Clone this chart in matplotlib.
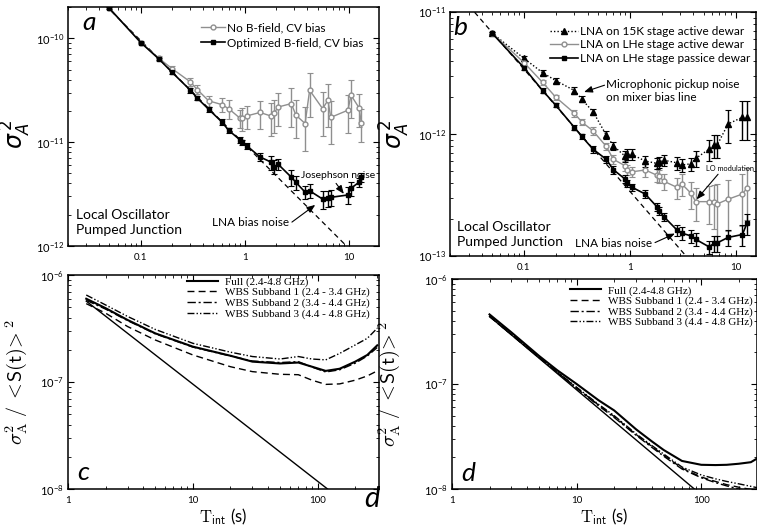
import numpy as np
import matplotlib
matplotlib.use('Agg')
import matplotlib.pyplot as plt
from matplotlib.ticker import (FixedLocator, FixedFormatter, LogLocator,
                               NullFormatter, LogFormatterMathtext)

plt.rcParams['font.family'] = ['Lato', 'DejaVu Sans']
plt.rcParams['mathtext.fontset'] = 'dejavusans'

# ---------------- data: panel a ----------------
t_a = [0.05, 0.1, 0.15, 0.2, 0.3, 0.35, 0.45, 0.6, 0.7, 0.9, 0.95, 1.05, 1.4, 1.8,
       1.9, 2.1, 2.8, 3.1, 3.8, 4.2, 5.6, 6.3, 6.7, 9.8, 10.5, 12.5, 13.2]
a_nob = [1.94e-10, 9.1e-11, 6.4e-11, 5.1e-11, 3.8e-11, 3.2e-11, 2.5e-11, 2.3e-11, 2.1e-11,
         1.7e-11, 1.7e-11, 1.79e-11, 1.93e-11, 1.78e-11, 1.89e-11, 2.18e-11, 2.35e-11,
         1.82e-11, 1.51e-11, 3.16e-11, 2.1e-11, 2.53e-11, 1.73e-11, 2.03e-11, 2.83e-11,
         2.15e-11, 1.53e-11]
a_nob_err = [0.02, 0.03, 0.05, 0.06, 0.08, 0.1, 0.12, 0.15, 0.2, 0.2, 0.25, 0.25, 0.3, 0.35,
             0.35, 0.35, 0.4, 0.4, 0.45, 0.45, 0.45, 0.45, 0.45, 0.4, 0.4, 0.35, 0.35]
a_opt = [1.94e-10, 9.1e-11, 6.3e-11, 4.7e-11, 3.16e-11, 2.65e-11, 2.07e-11, 1.57e-11, 1.3e-11,
         1.05e-11, 1.0e-11, 9.2e-12, 7.2e-12, 6.4e-12, 5.8e-12, 6.1e-12, 4.6e-12, 4.1e-12,
         3.3e-12, 3.4e-12, 2.83e-12, 2.87e-12, 2.94e-12, 3.1e-12, 3.6e-12, 4.1e-12, 4.6e-12]
a_opt_err = [0.02, 0.02, 0.03, 0.03, 0.05, 0.05, 0.05, 0.06, 0.06, 0.06, 0.06, 0.06, 0.08, 0.15,
             0.15, 0.12, 0.17, 0.15, 0.15, 0.15, 0.2, 0.18, 0.18, 0.18, 0.16, 0.1, 0.1]
a_ref_coef = 9.5e-12          # dashed 1/t radiometer line
a_ref_t = [0.02, 20]

# ---------------- data: panel b ----------------
t_b = [0.05, 0.1, 0.15, 0.2, 0.3, 0.35, 0.45, 0.6, 0.7, 0.9, 0.95, 1.05, 1.4, 1.8, 1.9,
       2.1, 2.8, 3.1, 3.8, 4.2, 5.6, 6.3, 6.7, 8.5, 11.6, 12.8]
b_15k = [6.7e-12, 4.17e-12, 3.18e-12, 2.74e-12, 2.27e-12, 1.94e-12, 1.52e-12, 9.8e-13, 8.0e-13,
         6.6e-13, 6.8e-13, 6.8e-13, 6.0e-13, 5.75e-13, 5.9e-13, 6.1e-13, 5.8e-13, 5.57e-13,
         5.7e-13, 6.3e-13, 7.5e-13, 8.1e-13, 8.1e-13, 1.21e-12, 1.37e-12, 1.37e-12]
b_15k_err = [0.02, 0.05, 0.05, 0.05, 0.06, 0.06, 0.06, 0.07, 0.07, 0.1, 0.1, 0.1, 0.1, 0.1, 0.1,
             0.1, 0.12, 0.12, 0.12, 0.15, 0.2, 0.22, 0.22, 0.3, 0.35, 0.35]
b_lhe_act = [6.7e-12, 3.85e-12, 2.65e-12, 2.0e-12, 1.48e-12, 1.26e-12, 1.06e-12, 7.9e-13,
             6.2e-13, 5.5e-13, 5.1e-13, 4.9e-13, 5.07e-13, 4.6e-13, 4.5e-13, 4.1e-13, 3.65e-13,
             3.9e-13, 3.26e-13, 2.79e-13, 2.79e-13, 2.75e-13, 2.67e-13, 2.92e-13, 3.22e-13, 3.6e-13]
b_lhe_act_err = [0.02, 0.05, 0.05, 0.05, 0.06, 0.06, 0.07, 0.07, 0.08, 0.1, 0.1, 0.1, 0.12, 0.12,
                 0.12, 0.15, 0.2, 0.2, 0.25, 0.3, 0.35, 0.4, 0.45, 0.45, 0.45, 0.45]
b_lhe_pas = [6.7e-12, 3.5e-12, 2.27e-12, 1.72e-12, 1.13e-12, 9.6e-13, 7.5e-13, 6.2e-13, 5.1e-13,
             4.28e-13, 3.94e-13, 3.66e-13, 3.22e-13, 2.54e-13, 2.35e-13, 2.1e-13, 1.63e-13,
             1.54e-13, 1.46e-13, 1.37e-13, 1.19e-13, 1.27e-13, 1.28e-13, 1.42e-13, 1.5e-13, 1.85e-13]
b_lhe_pas_err = [0.02, 0.04, 0.04, 0.04, 0.05, 0.05, 0.06, 0.06, 0.07, 0.07, 0.07, 0.07, 0.08,
                 0.08, 0.08, 0.08, 0.1, 0.12, 0.12, 0.12, 0.12, 0.15, 0.15, 0.15, 0.2, 0.2]
b_ref_coef = 3.4e-13
b_ref_t = [0.02, 16]

# ---------------- data: panel c ----------------
t_c = [1.4, 2, 3, 5, 10, 20, 30, 50, 70, 90, 116, 150, 200, 250, 300]
c_full = [6.0e-7, 4.9e-7, 3.8e-7, 2.85e-7, 2.14e-7, 1.76e-7, 1.55e-7, 1.49e-7, 1.52e-7, 1.39e-7,
          1.27e-7, 1.33e-7, 1.55e-7, 1.79e-7, 2.2e-7]
c_sub1 = [5.4e-7, 4.4e-7, 3.3e-7, 2.47e-7, 1.79e-7, 1.39e-7, 1.25e-7, 1.18e-7, 1.17e-7, 1.04e-7,
          9.5e-8, 9.6e-8, 1.04e-7, 1.14e-7, 1.27e-7]
c_sub2 = [5.8e-7, 4.8e-7, 3.75e-7, 2.82e-7, 2.12e-7, 1.75e-7, 1.57e-7, 1.52e-7, 1.55e-7, 1.38e-7,
          1.24e-7, 1.3e-7, 1.5e-7, 1.75e-7, 2.1e-7]
c_sub3 = [6.5e-7, 5.25e-7, 4.1e-7, 3.1e-7, 2.3e-7, 1.9e-7, 1.73e-7, 1.64e-7, 1.73e-7, 1.64e-7,
          1.61e-7, 1.85e-7, 2.22e-7, 2.56e-7, 3.18e-7]
c_ref_t = [1.4, 120]
c_ref_v = [5.7e-7, 1e-8]

# ---------------- data: panel d ----------------
t_d = [2, 3, 5, 7, 10, 15, 20, 30, 40, 50, 70, 100, 130, 160, 200, 250, 280]
d_full = [4.6e-7, 3.1e-7, 1.85e-7, 1.35e-7, 1.0e-7, 7.0e-8, 5.6e-8, 3.7e-8, 2.85e-8, 2.35e-8,
          1.85e-8, 1.7e-8, 1.69e-8, 1.7e-8, 1.74e-8, 1.8e-8, 1.95e-8]
d_sub1 = [4.4e-7, 2.95e-7, 1.78e-7, 1.29e-7, 9.2e-8, 6.3e-8, 4.9e-8, 3.3e-8, 2.55e-8, 2.1e-8,
          1.58e-8, 1.3e-8, 1.18e-8, 1.1e-8, 1.04e-8, 9.9e-9, 9.7e-9]
d_sub2 = [4.4e-7, 2.95e-7, 1.78e-7, 1.29e-7, 9.1e-8, 6.2e-8, 4.8e-8, 3.25e-8, 2.5e-8, 2.05e-8,
          1.55e-8, 1.28e-8, 1.15e-8, 1.07e-8, 1.0e-8, 9.5e-9, 9.3e-9]
d_sub3 = [4.5e-7, 3.0e-7, 1.8e-7, 1.3e-7, 9.3e-8, 6.4e-8, 5.0e-8, 3.35e-8, 2.6e-8, 2.15e-8,
          1.62e-8, 1.36e-8, 1.25e-8, 1.18e-8, 1.12e-8, 1.06e-8, 1.03e-8]
d_ref_t = [2, 88]
d_ref_v = [4.4e-7, 1e-8]

band_labels = ['Full (2.4-4.8 GHz)', 'WBS Subband 1 (2.4 - 3.4 GHz)',
               'WBS Subband 2 (3.4 - 4.4 GHz)', 'WBS Subband 3 (4.4 - 4.8 GHz)']

GRAY = '#8f8f8f'
W, H = 757, 527
fig = plt.figure(figsize=(W / 100, H / 100), dpi=100)


def add_ax(l, r, t, b):
    return fig.add_axes([l / W, 1 - b / H, (r - l) / W, (b - t) / H])


def style(ax, xmaj, xlab, xlim, ylim):
    ax.set_xscale('log')
    ax.set_yscale('log')
    ax.set_xlim(*xlim)
    ax.set_ylim(*ylim)
    ax.tick_params(which='both', direction='in', top=True, right=True)
    ax.tick_params(which='major', length=4, width=0.8, labelsize=7, pad=5)
    ax.tick_params(which='minor', length=2, width=0.6)
    ax.tick_params(axis='y', which='major', pad=3)
    ax.xaxis.set_major_locator(FixedLocator(xmaj))
    ax.xaxis.set_major_formatter(FixedFormatter(xlab))
    ax.xaxis.set_minor_locator(LogLocator(base=10, subs=np.arange(2, 10), numticks=20))
    ax.xaxis.set_minor_formatter(NullFormatter())
    ax.yaxis.set_major_locator(LogLocator(base=10, numticks=10))
    ax.yaxis.set_major_formatter(LogFormatterMathtext())
    ax.yaxis.set_minor_locator(LogLocator(base=10, subs=np.arange(2, 10), numticks=20))
    ax.yaxis.set_minor_formatter(NullFormatter())
    for lab in ax.get_yticklabels():
        lab.set_fontsize(8)
    for s in ax.spines.values():
        s.set_linewidth(1.1)


def arrow(ax, tail, head):
    ax.annotate('', xy=head, xytext=tail, xycoords='axes fraction', textcoords='axes fraction',
                arrowprops=dict(arrowstyle='-|>,head_length=0.5,head_width=0.2', lw=0.8,
                                color='k', shrinkA=0, shrinkB=0))


# ======== panel a ========
axa = add_ax(68, 379, 7, 246)
style(axa, [0.1, 1, 10], ['0.1', '1', '10'], (0.02, 19.5), (1e-12, 2e-10))
ta = np.array(t_a)
axa.plot(a_ref_t, [a_ref_coef / t for t in a_ref_t], ls=(0, (4, 3)), color='k', lw=0.9)
nob = np.array(a_nob)
opt = np.array(a_opt)
axa.errorbar(ta, nob, yerr=nob * np.array(a_nob_err), fmt='none', ecolor=GRAY, elinewidth=1.0,
             capsize=2, capthick=0.8)
axa.errorbar(ta, opt, yerr=opt * np.array(a_opt_err), fmt='none', ecolor='k', elinewidth=1.0,
             capsize=2, capthick=0.8)
l1, = axa.plot(ta, nob, '-o', color=GRAY, mfc='white', mec=GRAY, ms=3.5, lw=1.0,
               label='No B-field, CV bias')
l2, = axa.plot(ta, opt, '-s', color='k', mfc='k', ms=3.5, lw=1.2,
               label='Optimized B-field, CV bias')
axa.legend(handles=[l1, l2], loc='upper right', bbox_to_anchor=(0.965, 0.955), frameon=False,
           fontsize=8.5, handlelength=2.0, handletextpad=0.2, labelspacing=0.35, borderaxespad=0)
axa.set_ylabel(r'$\sigma_A^{\,2}$', fontsize=17)
axa.yaxis.set_label_coords(-0.112, 0.47)
axa.text(0.045, 0.905, 'a', transform=axa.transAxes, fontsize=19, style='italic')
axa.text(0.748, 0.293, 'Josephson noise', transform=axa.transAxes, fontsize=7.5, va='center')
arrow(axa, (0.862, 0.262), (0.887, 0.218))
axa.text(0.463, 0.1, 'LNA bias noise', transform=axa.transAxes, fontsize=8.5, va='center')
arrow(axa, (0.72, 0.1), (0.795, 0.172))
axa.text(0.026, 0.1, 'Local Oscillator\nPumped Junction', transform=axa.transAxes,
         fontsize=10, va='center', linespacing=1.3)

# ======== panel b ========
axb = add_ax(450, 756, 12, 256)
style(axb, [0.1, 1, 10], ['0.1', '1', '10'], (0.02, 15.6), (1e-13, 1e-11))
tb = np.array(t_b)
axb.plot(b_ref_t, [b_ref_coef / t for t in b_ref_t], ls=(0, (4, 3)), color='k', lw=0.9)
v15 = np.array(b_15k)
vla = np.array(b_lhe_act)
vlp = np.array(b_lhe_pas)
axb.errorbar(tb, vla, yerr=vla * np.array(b_lhe_act_err), fmt='none', ecolor=GRAY,
             elinewidth=1.0, capsize=2, capthick=0.8)
axb.errorbar(tb, v15, yerr=v15 * np.array(b_15k_err), fmt='none', ecolor='k', elinewidth=1.0,
             capsize=2, capthick=0.8)
axb.errorbar(tb, vlp, yerr=vlp * np.array(b_lhe_pas_err), fmt='none', ecolor='k',
             elinewidth=1.0, capsize=2, capthick=0.8)
m1, = axb.plot(tb, v15, ls=(0, (1, 1.5)), marker='^', color='k', ms=3.8, lw=1.0,
               label='LNA on 15K stage active dewar')
m2, = axb.plot(tb, vla, '-o', color=GRAY, mfc='white', mec=GRAY, ms=3.5, lw=1.0,
               label='LNA on LHe stage active dewar')
m3, = axb.plot(tb, vlp, '-s', color='k', ms=3.5, lw=1.2,
               label='LNA on LHe stage passice dewar')
axb.legend(handles=[m1, m2, m3], loc='upper right', bbox_to_anchor=(0.997, 0.962),
           frameon=False, fontsize=8.5, handlelength=2.3, handletextpad=0.2,
           labelspacing=0.2, borderaxespad=0)
axb.set_ylabel(r'$\sigma_A^{\,2}$', fontsize=17)
axb.yaxis.set_label_coords(-0.125, 0.5)
axb.text(0.012, 0.905, 'b', transform=axb.transAxes, fontsize=19, style='italic')
axb.text(0.51, 0.676, 'Microphonic pickup noise\non mixer bias line', transform=axb.transAxes,
         fontsize=8.5, va='center', linespacing=1.2)
arrow(axb, (0.505, 0.70), (0.438, 0.672))
axb.text(0.836, 0.357, 'LO modulation', transform=axb.transAxes, fontsize=5.3, va='center')
arrow(axb, (0.876, 0.335), (0.806, 0.232))
axb.text(0.408, 0.053, 'LNA bias noise', transform=axb.transAxes, fontsize=8.5, va='center')
arrow(axb, (0.67, 0.055), (0.735, 0.092))
axb.text(0.023, 0.09, 'Local Oscillator\nPumped Junction', transform=axb.transAxes,
         fontsize=10, va='center', linespacing=1.3)

# ======== panel c / d ========
styles = ['-', (0, (5, 3)), (0, (6, 2, 1.5, 2)), (0, (5, 1.5, 1, 1.5, 1, 1.5))]
widths = [1.5, 1.0, 1.0, 1.0]
ylab_cd = r'$\sigma^2_{\rm A}\;/\;<\!\mathsf{S(t)}\!>^2$'
xlab_cd = r'$\mathrm{T}_{\mathsf{int}}$ (s)'


def band_panel(ax, t, series, ref_t, ref_v, letter, legend_anchor, ylab_x):
    ax.plot(ref_t, ref_v, '-', color='k', lw=1.0)
    hs = []
    for s, ls, lw, lab in zip(series, styles, widths, band_labels):
        h, = ax.plot(t, s, ls=ls, color='k', lw=lw, label=lab)
        hs.append(h)
    ax.legend(handles=hs, loc='upper right', bbox_to_anchor=legend_anchor, frameon=False,
              prop={'family': 'Liberation Serif', 'size': 8}, handlelength=2.8,
              handletextpad=0.6, labelspacing=0.05, borderaxespad=0)
    ax.set_ylabel(ylab_cd, fontsize=14.5, math_fontfamily='cm')
    ax.yaxis.set_label_coords(ylab_x, 0.5)
    ax.set_xlabel(xlab_cd, fontsize=12, math_fontfamily='cm', labelpad=1)
    ax.text(0.03, 0.04, letter, transform=ax.transAxes, fontsize=19, style='italic')


axc = add_ax(68, 379, 275, 489)
style(axc, [1, 10, 100], ['1', '10', '100'], (1, 310), (1e-8, 1e-6))
band_panel(axc, t_c, [c_full, c_sub1, c_sub2, c_sub3], c_ref_t, c_ref_v, 'c', (0.985, 1.012),
           -0.125)

axd = add_ax(452, 757, 279, 489)
style(axd, [1, 10, 100], ['1', '10', '100'], (1, 280), (1e-8, 1e-6))
band_panel(axd, t_d, [d_full, d_sub1, d_sub2, d_sub3], d_ref_t, d_ref_v, 'd', (1.0, 0.99),
           -0.165)

fig.text(364 / W, 1 - 507 / H, 'd', fontsize=21, style='italic')

fig.savefig('out.png', dpi=100)
